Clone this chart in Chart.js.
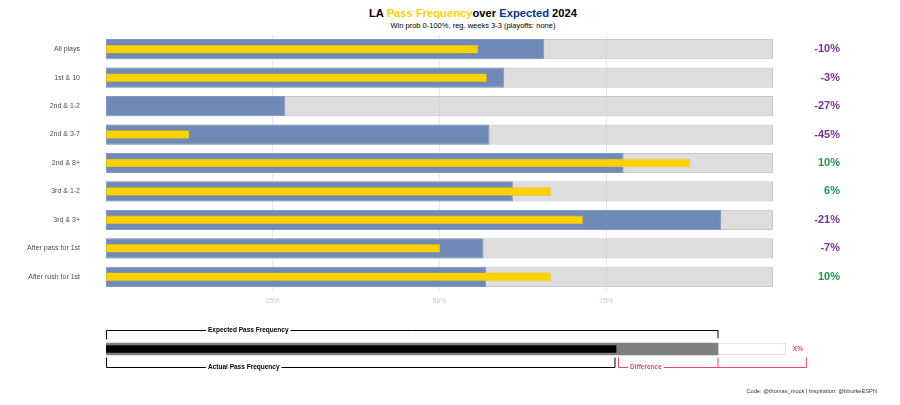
<!DOCTYPE html>
<html>
<head>
<meta charset="utf-8">
<script src="https://cdn.jsdelivr.net/npm/chart.js@4"></script>
<style>
  body { margin: 0; width: 900px; height: 405px; position: relative; background: #fff;
         font-family: "Liberation Sans", Arial, sans-serif; overflow: hidden; }
  .abs { position: absolute; }
  #title { left: 0; width: 946px; top: 7px; text-align: center; white-space: nowrap;
           font-size: 11.2px; font-weight: bold; color: #000; }
  #subtitle { left: 0; width: 946px; top: 21px; text-align: center; white-space: nowrap;
              font-size: 7.5px; color: #000; }
  #credits { right: 23px; top: 388px; font-size: 5.7px; color: #333; white-space: nowrap; }
</style>
</head>
<body>
<div id="title" class="abs">LA <span style="color:#ffd100">Pass Frequency</span>over <span style="color:#003594">Expected</span> 2024</div>
<div id="subtitle" class="abs">Win prob 0-100%, reg. weeks 3-3 (playoffs: none)</div>
<div class="abs" style="left:0;top:0"><canvas id="main" width="900" height="310"></canvas></div>
<div class="abs" style="left:0;top:310px"><canvas id="legend" width="900" height="95"></canvas></div>
<div id="credits" class="abs">Code: @thomas_mock | Inspiration: @bburkeESPN</div>
<script>
// 데이터
const situations = ["All plays", "1st & 10", "2nd & 1-2", "2nd & 3-7", "2nd & 8+",
                    "3rd & 1-2", "3rd & 3+", "After pass for 1st", "After rush for 1st"];
const expectedPass = [65.7, 59.7, 26.9, 57.5, 77.6, 61.0, 92.2, 56.6, 57.0];
const actualPass = [55.8, 57.1, 0, 12.5, 87.6, 66.7, 71.5, 50.1, 66.7];
const passOverExpected = [-10, -3, -27, -45, 10, 6, -21, -7, 10];
const fullRange = situations.map(() => 100);
const xTicks = [25, 50, 75];

// 범례 예시 값
const legendCategory = ["example"];
const legendExpected = [90];
const legendActual = [75];
const legendFull = [100];

const FONT = "'Liberation Sans', Arial, sans-serif";
const PURPLE = "#7b3294";
const GREEN = "#1a9850";
const PINK = "#e8476a";

/* 메인 차트 */
new Chart(document.getElementById("main"), {
    type: "bar",
    data: {
        labels: situations,
        datasets: [
            {
                label: "Actual",
                data: actualPass,
                backgroundColor: "#ffd100",
                borderColor: "#e6bd00",
                borderWidth: 0.6,
                borderSkipped: false,
                grouped: false,
                categoryPercentage: 1,
                barPercentage: 0.30,
                order: 0,
            },
            {
                label: "Expected",
                data: expectedPass,
                backgroundColor: "#6f8ab7",
                borderColor: "#8198c0",
                borderWidth: 1,
                borderSkipped: false,
                grouped: false,
                categoryPercentage: 1,
                barPercentage: 0.71,
                order: 1,
            },
            {
                label: "Full",
                data: fullRange,
                backgroundColor: "rgba(200,200,200,0.62)",
                borderColor: "#c8c8c8",
                borderWidth: 1,
                borderSkipped: false,
                grouped: false,
                categoryPercentage: 1,
                barPercentage: 0.71,
                order: 2,
            },
        ],
    },
    options: {
        indexAxis: "y",
        responsive: false,
        animation: false,
        layout: { padding: { top: 35, right: 60, left: 0, bottom: 0 } },
        plugins: { legend: { display: false }, tooltip: { enabled: false } },
        scales: {
            x: {
                min: 0,
                max: 100,
                afterBuildTicks: (scale) => { scale.ticks = xTicks.map(v => ({ value: v })); },
                afterFit: (scale) => { scale.height = 19; },
                grid: { color: "#e8e8e8", lineWidth: 1, drawTicks: false },
                border: { display: false },
                ticks: {
                    padding: 6,
                    color: "#c4c4c4",
                    font: { family: FONT, size: 7 },
                    callback: (v) => v + "%",
                },
            },
            y: {
                afterFit: (scale) => { scale.width = 106; },
                grid: { display: false, drawTicks: true, tickLength: 26 },
                border: { display: false },
                ticks: { padding: 0, color: "#4d4d4d", font: { family: FONT, size: 7 } },
            },
            diff: {
                type: "category",
                position: "right",
                axis: "y",
                labels: passOverExpected.map(v => v + "%"),
                offset: true,
                afterFit: (scale) => { scale.width = 67; },
                grid: { display: false, drawTicks: false },
                border: { display: false },
                ticks: {
                    crossAlign: "far",
                    color: (ctx) => passOverExpected[ctx.index] < 0 ? PURPLE : GREEN,
                    font: { family: FONT, size: 11, weight: "bold" },
                },
            },
        },
    },
});

/* 범례 설명 그림 */
const bracketPlugin = {
    id: "brackets",
    afterDatasetsDraw(chart) {
        const ctx = chart.ctx;
        const xs = chart.scales.x;
        const area = chart.chartArea;
        const top = area.top + 0.5;
        const bottom = area.bottom - 0.5;
        const mid = (area.top + area.bottom) / 2;
        const x0 = xs.getPixelForValue(0);
        const xe = xs.getPixelForValue(legendExpected[0]);
        const xa = xs.getPixelForValue(legendActual[0]);
        const xEnd = xs.getPixelForValue(103);
        const xText = xs.getPixelForValue(15);

        ctx.save();
        ctx.lineWidth = 1;
        ctx.font = `bold 6.5px ${FONT}`;
        ctx.textBaseline = "middle";
        ctx.textAlign = "left";

        const label = (text, x, y, color) => {
            const w = ctx.measureText(text).width;
            ctx.fillStyle = "#fff";
            ctx.fillRect(x - 2, y - 4, w + 4, 8);
            ctx.fillStyle = color;
            ctx.fillText(text, x, y);
        };

        // 기대 패스 빈도
        ctx.strokeStyle = "#000";
        ctx.beginPath();
        ctx.moveTo(x0 + 0.5, top + 9);
        ctx.lineTo(x0 + 0.5, top);
        ctx.lineTo(xe, top);
        ctx.lineTo(xe, top + 8);
        ctx.stroke();
        label("Expected Pass Frequency", xText, top, "#000");

        // 실제 패스 빈도
        ctx.beginPath();
        ctx.moveTo(x0 + 0.5, bottom - 10);
        ctx.lineTo(x0 + 0.5, bottom);
        ctx.lineTo(xa - 1, bottom);
        ctx.lineTo(xa - 1, bottom - 10);
        ctx.stroke();
        label("Actual Pass Frequency", xText, bottom, "#000");

        // 차이
        ctx.strokeStyle = PINK;
        ctx.beginPath();
        ctx.moveTo(xa + 2.5, bottom - 10);
        ctx.lineTo(xa + 2.5, bottom);
        ctx.lineTo(xEnd, bottom);
        ctx.lineTo(xEnd, bottom - 10);
        ctx.moveTo(xe, bottom - 10);
        ctx.lineTo(xe, bottom);
        ctx.stroke();
        label("Difference", xa + 14, bottom, PINK);

        ctx.fillStyle = PINK;
        ctx.fillText("X%", xs.getPixelForValue(101), mid);
        ctx.restore();
    },
};

new Chart(document.getElementById("legend"), {
    type: "bar",
    data: {
        labels: legendCategory,
        datasets: [
            { data: legendActual, backgroundColor: "#000", grouped: false, barThickness: 7, order: 0 },
            { data: legendExpected, backgroundColor: "#7f7f7f", grouped: false, barThickness: 12, order: 1 },
            {
                data: legendFull, backgroundColor: "#fff", borderColor: "#dadada", borderWidth: 1,
                borderSkipped: false, grouped: false, barThickness: 12, order: 2,
            },
        ],
    },
    options: {
        indexAxis: "y",
        responsive: false,
        animation: false,
        layout: { padding: { left: 106, right: 114, top: 20, bottom: 37 } },
        plugins: { legend: { display: false }, tooltip: { enabled: false } },
        scales: {
            x: { display: false, min: 0, max: 100 },
            y: { display: false },
        },
    },
    plugins: [bracketPlugin],
});
</script>
</body>
</html>
